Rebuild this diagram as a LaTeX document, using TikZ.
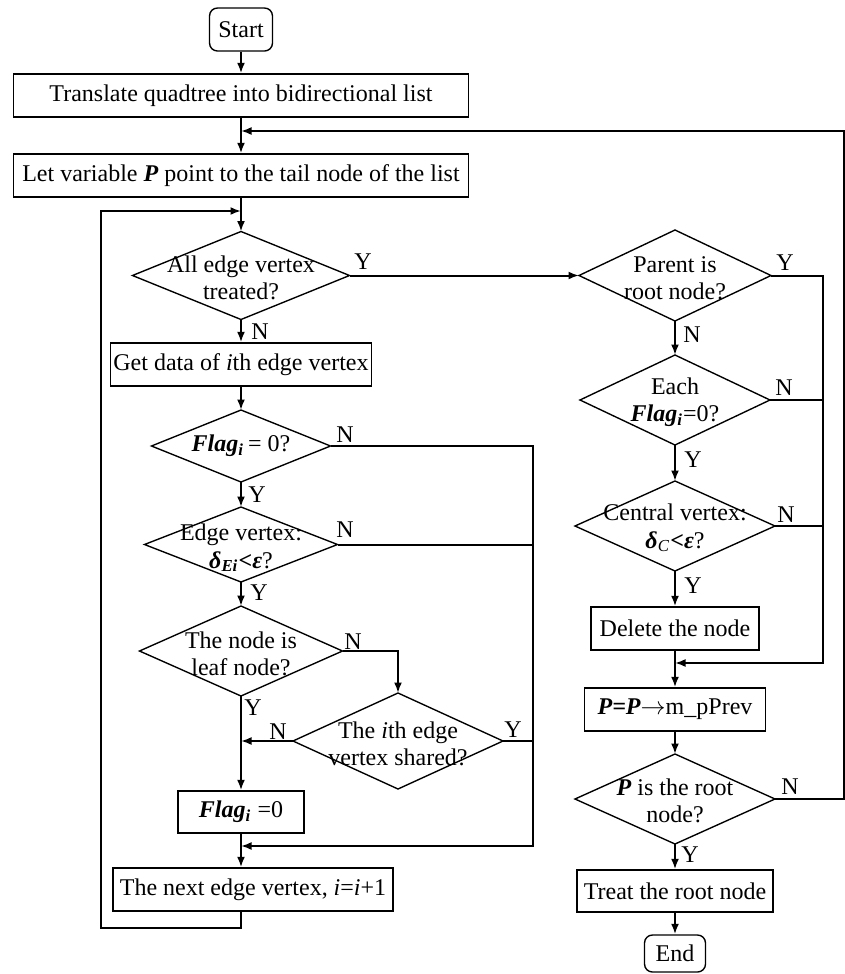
\documentclass[tikz,border=0pt]{standalone}
\usepackage{fontspec}
\setmainfont{Liberation Serif}
\usetikzlibrary{shapes.geometric,arrows.meta,calc}
\newcommand{\bi}[1]{\textbf{\textit{#1}}}
\begin{document}
\begin{tikzpicture}[x=0.4pt,y=-0.4pt,
  font=\fontsize{9.6}{11}\selectfont,
  box/.style={draw, line width=0.55pt, inner sep=0pt, align=center},
  rbox/.style={box, rounded corners=3.2pt},
  dia/.style={draw, diamond, line width=0.55pt, inner sep=0pt, outer sep=0pt},
  txt/.style={inner sep=0pt, align=center},
  lab/.style={inner sep=0pt},
  con/.style={line width=0.8pt},
  arr/.style={con, -{Latex[length=4.2pt,width=3.2pt]}},
]
\useasboundingbox (0,0) rectangle (845,974);
% left column
\node[rbox, minimum width=63*0.4pt, minimum height=43*0.4pt] (start) at (241,29.5) {Start};
\node[box, minimum width=455*0.4pt, minimum height=43*0.4pt] (trans) at (241,95.5) {Translate quadtree into bidirectional list};
\node[box, minimum width=455*0.4pt, minimum height=43*0.4pt] (let) at (241,175.5) {Let variable \bi{P} point to the tail node of the list};
\node[dia, minimum width=217*0.4pt, minimum height=88*0.4pt] (d1) at (241,275.5) {};
\node[txt] (d1t) at (241,278) {All edge vertex\\treated?};
\node[box, minimum width=261*0.4pt, minimum height=43*0.4pt] (get) at (241,364.5) {Get data of \textit{i}th edge vertex};
\node[dia, minimum width=179*0.4pt, minimum height=72*0.4pt] (flag) at (241,446) {};
\node[txt] (flagt) at (241,446) {\bi{Flag\textsubscript{i}}\,= 0?};
\node[dia, minimum width=193*0.4pt, minimum height=75*0.4pt] (edge) at (241,544.5) {};
\node[txt] (edget) at (241,548) {Edge vertex:\\\bi{δ\textsubscript{Ei}<ε}?};
\node[dia, minimum width=203*0.4pt, minimum height=90*0.4pt] (leaf) at (241,651) {};
\node[txt] (leaft) at (241,654) {The node is\\leaf node?};
\node[dia, minimum width=210*0.4pt, minimum height=96*0.4pt] (shared) at (398,741) {};
\node[txt] (sharedt) at (398,744) {The \textit{i}th edge\\vertex shared?};
\node[box, minimum width=126*0.4pt, minimum height=42*0.4pt] (flagbox) at (241,812) {\bi{Flag\textsubscript{i}} =0};
\node[box, minimum width=280*0.4pt, minimum height=43*0.4pt] (next) at (253,889.5) {The next edge vertex, \textit{i}=\textit{i}+1};
% right column
\node[dia, minimum width=192*0.4pt, minimum height=91*0.4pt] (parent) at (675,275.5) {};
\node[txt] (parentt) at (675,278) {Parent is\\root node?};
\node[dia, minimum width=190*0.4pt, minimum height=90*0.4pt] (each) at (675,400) {};
\node[txt] (eacht) at (675,402) {Each\\\bi{Flag\textsubscript{i}}=0?};
\node[dia, minimum width=200*0.4pt, minimum height=90*0.4pt] (central) at (675,526) {};
\node[txt] (centralt) at (675,528) {Central vertex:\\\bi{δ}\textsubscript{\textit{C}}\bi{<ε}?};
\node[box, minimum width=168*0.4pt, minimum height=43*0.4pt] (delete) at (675,628.5) {Delete the node};
\node[box, minimum width=181*0.4pt, minimum height=43*0.4pt] (pp) at (675,709.5) {\bi{P=P}$\rightarrow$m\_pPrev};
\node[dia, minimum width=200*0.4pt, minimum height=90*0.4pt] (proot) at (675,799) {};
\node[txt] (proott) at (675,801) {\bi{P} is the root\\node?};
\node[box, minimum width=196*0.4pt, minimum height=42*0.4pt] (treat) at (675,891) {Treat the root node};
\node[rbox, minimum width=61*0.4pt, minimum height=37*0.4pt] (end) at (675,953.5) {End};
% helper coordinates
\coordinate (loopB) at (101,928);
\coordinate (loopT) at (101,211);
\coordinate (fbR) at (844,131);
\coordinate (rc) at (823,663);
\coordinate (lc) at (533,846);
% left connectors
\draw[arr] (start) -- (trans);
\draw[arr] (trans) -- (let);
\draw[arr] (let) -- (d1);
\draw[arr] (d1) -- (get);
\draw[arr] (get) -- (flag);
\draw[arr] (flag) -- (edge);
\draw[arr] (edge) -- (leaf);
\draw[arr] (leaf) -- (flagbox);
\draw[arr] (flagbox) -- (flagbox.south |- next.north);
\draw[arr] (leaf.east) -| (shared.north);
\draw[arr] (shared.west) -- (shared.west -| leaf.south);
\draw[arr] (flag.east) -| (lc) -- (lc -| flagbox.south);
\draw[con] (edge.east) -- (edge.east -| lc);
\draw[con] (shared.east) -- (shared.east -| lc);
\draw[arr] (next.south -| d1.south) |- (loopB) -- (loopT) -- (loopT -| d1.north);
\draw[arr] (d1.east) -- (parent.west);
% right connectors
\draw[arr] (parent) -- (each);
\draw[arr] (each) -- (central);
\draw[arr] (central) -- (delete);
\draw[arr] (delete) -- (pp);
\draw[arr] (pp) -- (proot);
\draw[arr] (proot) -- (treat);
\draw[arr] (treat) -- (end);
\draw[arr] (parent.east) -| (rc) -- (rc -| delete.south);
\draw[con] (each.east) -- (each.east -| rc);
\draw[con] (central.east) -- (central.east -| rc);
\draw[arr] (proot.east) -| (fbR) -- (fbR -| let.north);
% labels
\node[lab] (l1) at (363,262) {Y};
\node[lab] (l2) at (260,332) {N};
\node[lab] (l3) at (345,435) {N};
\node[lab] (l4) at (257,495) {Y};
\node[lab] (l5) at (345,530) {N};
\node[lab] (l6) at (259,593) {Y};
\node[lab] (l7) at (353,642) {N};
\node[lab] (l8) at (253,708) {Y};
\node[lab] (l9) at (278,732) {N};
\node[lab] (l10) at (513,730) {Y};
\node[lab] (l11) at (785,263) {Y};
\node[lab] (l12) at (692,335) {N};
\node[lab] (l13) at (784,388) {N};
\node[lab] (l14) at (693,460) {Y};
\node[lab] (l15) at (786,515) {N};
\node[lab] (l16) at (693,586) {Y};
\node[lab] (l17) at (790,787) {N};
\node[lab] (l18) at (690,855) {Y};
\end{tikzpicture}
\end{document}
